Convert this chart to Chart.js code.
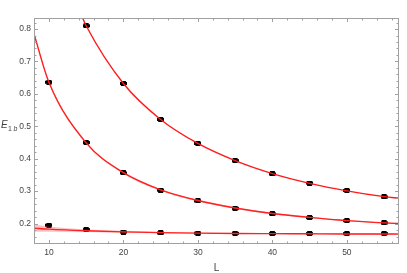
<!DOCTYPE html>
<html>
<head>
<meta charset="utf-8">
<script src="https://cdn.jsdelivr.net/npm/chart.js@4.4.1/dist/chart.umd.min.js"></script>
<style>
  body { margin: 0; background: #fff; }
  canvas { display: block; }
</style>
</head>
<body>
<canvas id="chart" width="407" height="273"></canvas>
<script>
// measured points (L, E_1b)
const topL = [15, 20, 25, 30, 35, 40, 45, 50, 55]
const topE = [0.810, 0.632, 0.521, 0.447, 0.394, 0.353, 0.325, 0.302, 0.282]
const midL = [10, 15, 20, 25, 30, 35, 40, 45, 50, 55]
const midE = [0.636, 0.450, 0.356, 0.303, 0.270, 0.247, 0.230, 0.2185, 0.209, 0.202]
const lowL = [10, 15, 20, 25, 30, 35, 40, 45, 50, 55]
const lowE = [0.195, 0.1815, 0.174, 0.171, 0.1705, 0.170, 0.169, 0.169, 0.169, 0.169]

// fitted curves
const topFitL = [14.4, 15, 20, 25, 30, 35, 40, 45, 50, 55, 57]
const topFit  = [0.841, 0.810, 0.632, 0.521, 0.447, 0.394, 0.354, 0.324, 0.301, 0.283, 0.278]
const fitL    = [8, 10, 15, 20, 25, 30, 35, 40, 45, 50, 55, 57]
const midFit  = [0.785, 0.636, 0.449, 0.357, 0.304, 0.271, 0.248, 0.231, 0.219, 0.209, 0.202, 0.200]
const midLo   = [0.781, 0.632, 0.446, 0.354, 0.301, 0.268, 0.246, 0.229, 0.217, 0.207, 0.200, 0.198]
const midHi   = [0.789, 0.640, 0.452, 0.360, 0.307, 0.274, 0.250, 0.233, 0.221, 0.211, 0.204, 0.202]
const lowFit  = [0.186, 0.183, 0.178, 0.1745, 0.172, 0.1705, 0.1695, 0.169, 0.1685, 0.168, 0.1678, 0.1675]
const lowLo   = [0.1745, 0.175, 0.174, 0.1715, 0.170, 0.169, 0.168, 0.1675, 0.167, 0.1665, 0.1663, 0.166]
const lowHi   = [0.197, 0.191, 0.182, 0.1775, 0.174, 0.172, 0.171, 0.1705, 0.170, 0.1695, 0.1693, 0.169]

const xTicks = [10, 20, 30, 40, 50]
const yTicks = [0.2, 0.3, 0.4, 0.5, 0.6, 0.7, 0.8]

const FONT = "'Liberation Sans', Arial, sans-serif"
const FRAME = "#a0a0a0"
const RED = "#ff1a1a"
const BAND = "rgba(255, 50, 50, 0.3)"

function pts(xs, ys){
    return xs.map((x, i) => ({x: x, y: ys[i]}))
}

// little black blob like the markers in the picture
const marker = document.createElement("canvas")
marker.width = 7
marker.height = 5
{
    const c = marker.getContext("2d")
    c.fillStyle = "#000"
    c.fillRect(1, 0, 5, 5)
    c.fillRect(0, 1, 7, 3)
}

function curve(xs, ys){
    return {data: pts(xs, ys), borderColor: RED, borderWidth: 1.4, pointRadius: 0,
            cubicInterpolationMode: "monotone", fill: false}
}
function band(xs, ys, fill){
    return {data: pts(xs, ys), borderWidth: 0, borderColor: "rgba(0,0,0,0)", backgroundColor: BAND,
            pointRadius: 0, cubicInterpolationMode: "monotone", fill: fill}
}
function marks(xs, ys){
    return {data: pts(xs, ys), showLine: false, pointStyle: marker, pointRadius: 4, borderWidth: 0}
}

// frame with inward ticks on all four sides, plus the axis titles
const framePlugin = {
    id: "frame",
    afterDatasetsDraw(chart){
        const ctx = chart.ctx
        const a = chart.chartArea
        const xs = chart.scales.x
        const ys = chart.scales.y
        ctx.save()
        ctx.strokeStyle = FRAME
        ctx.lineWidth = 1
        ctx.strokeRect(Math.round(a.left) + 0.5, Math.round(a.top) + 0.5,
                       Math.round(a.right - a.left) - 1, Math.round(a.bottom - a.top) - 1)
        ctx.beginPath()
        for(let v = 8; v <= 57; v += 2){
            const len = (v % 10 === 0) ? 4 : 2.5
            const px = Math.round(xs.getPixelForValue(v)) + 0.5
            ctx.moveTo(px, a.bottom); ctx.lineTo(px, a.bottom - len)
            ctx.moveTo(px, a.top); ctx.lineTo(px, a.top + len)
        }
        for(let k = 14; k <= 83; k += 2){
            const v = k / 100
            const len = (k % 10 === 0) ? 4 : 2.5
            const py = Math.round(ys.getPixelForValue(v)) + 0.5
            ctx.moveTo(a.left, py); ctx.lineTo(a.left + len, py)
            ctx.moveTo(a.right, py); ctx.lineTo(a.right - len, py)
        }
        ctx.stroke()

        ctx.fillStyle = "#444"
        ctx.textBaseline = "alphabetic"
        ctx.textAlign = "center"
        ctx.font = `10px ${FONT}`
        ctx.fillText("L", (a.left + a.right) / 2, 271)

        ctx.textAlign = "left"
        ctx.font = `italic 10px ${FONT}`
        ctx.fillText("E", 1, 128)
        ctx.font = `7px ${FONT}`
        ctx.fillText("1", 8, 131)
        ctx.font = `italic 7px ${FONT}`
        ctx.fillText("b", 13.5, 131)
        ctx.restore()
    }
}

const chart = new Chart(document.getElementById("chart"), {
    type: "line",
    data: {
        datasets: [
            band(fitL, lowLo, false),
            band(fitL, lowHi, "-1"),
            band(fitL, midLo, false),
            band(fitL, midHi, "-1"),
            curve(fitL, lowFit),
            curve(fitL, midFit),
            curve(topFitL, topFit),
            marks(lowL, lowE),
            marks(midL, midE),
            marks(topL, topE)
        ]
    },
    options: {
        responsive: false,
        animation: false,
        layout: {padding: {top: 18, right: 8, left: 0, bottom: 0}},
        plugins: {legend: {display: false}, tooltip: {enabled: false}},
        scales: {
            x: {
                type: "linear", min: 8, max: 57,
                grid: {display: false, drawTicks: false},
                border: {display: false},
                afterBuildTicks: s => { s.ticks = xTicks.map(v => ({value: v})) },
                afterFit: s => { s.height = 29 },
                ticks: {padding: 4, color: "#444", font: {family: FONT, size: 8.5},
                        callback: v => String(v), maxRotation: 0}
            },
            y: {
                type: "linear", min: 0.137, max: 0.834,
                grid: {display: false, drawTicks: false},
                border: {display: false},
                afterBuildTicks: s => { s.ticks = yTicks.map(v => ({value: v})) },
                afterFit: s => { s.width = 34 },
                ticks: {padding: 3, color: "#444", font: {family: FONT, size: 8.5},
                        callback: v => v.toFixed(1)}
            }
        }
    },
    plugins: [framePlugin]
})
</script>
</body>
</html>
